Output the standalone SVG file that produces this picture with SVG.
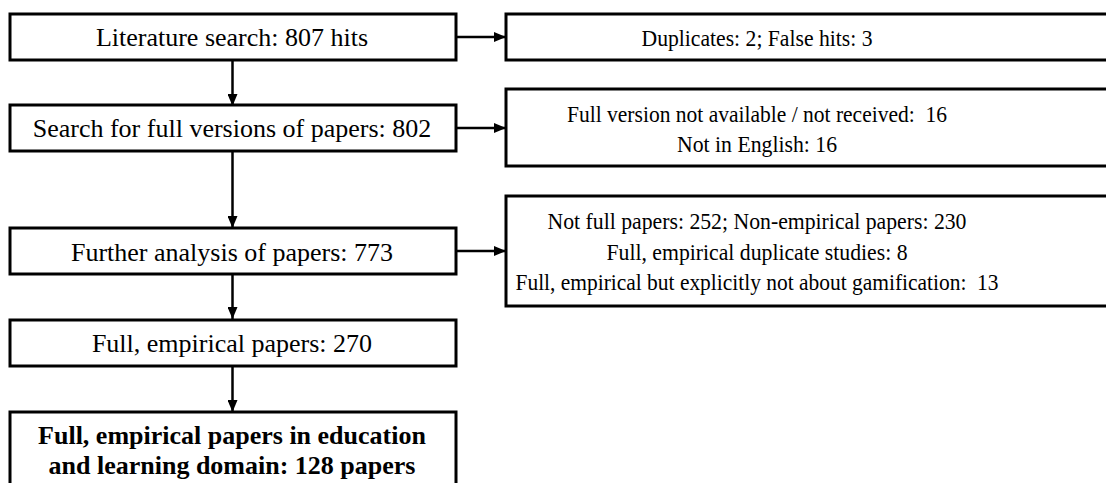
<svg xmlns="http://www.w3.org/2000/svg" width="1106" height="483" viewBox="0 0 1106 483">
<style>
.box{fill:#fff;stroke:#000;stroke-width:3}
.t{font-family:"Liberation Serif","Times New Roman",serif;font-size:24px;fill:#000;text-anchor:middle}
.l{font-size:26px}
.b{font-weight:bold}
.c{stroke:#000;stroke-width:2.5;fill:none}
</style>
<defs>
<marker id="ah" markerWidth="12" markerHeight="10" refX="12" refY="5" orient="auto" markerUnits="userSpaceOnUse">
<path d="M0,0 L12,5 L0,10 Z" fill="#000"/>
</marker>
</defs>
<rect width="1106" height="483" fill="#fff"/>
<g id="connectors">
<line class="c" x1="457" y1="37" x2="506" y2="37" marker-end="url(#ah)"/>
<line class="c" x1="457" y1="128" x2="506" y2="128" marker-end="url(#ah)"/>
<line class="c" x1="457" y1="251" x2="506" y2="251" marker-end="url(#ah)"/>
<line class="c" x1="232.5" y1="60" x2="232.5" y2="106" marker-end="url(#ah)"/>
<line class="c" x1="232.5" y1="151" x2="232.5" y2="228" marker-end="url(#ah)"/>
<line class="c" x1="232.5" y1="274" x2="232.5" y2="319" marker-end="url(#ah)"/>
<line class="c" x1="232.5" y1="366" x2="232.5" y2="412" marker-end="url(#ah)"/>
</g>
<g id="n1">
<rect class="box" x="10" y="14" width="446" height="46"/>
<text class="t l" x="232" y="46">Literature search: 807 hits</text>
</g>
<g id="n2">
<rect class="box" x="10" y="105" width="446" height="46"/>
<text class="t l" x="232" y="137">Search for full versions of papers: 802</text>
</g>
<g id="n3">
<rect class="box" x="10" y="228" width="446" height="46"/>
<text class="t l" x="232" y="261">Further analysis of papers: 773</text>
</g>
<g id="n4">
<rect class="box" x="10" y="320" width="446" height="46"/>
<text class="t l" x="232" y="352">Full, empirical papers: 270</text>
</g>
<g id="n5">
<rect class="box" x="10" y="412" width="446" height="80"/>
<text class="t l b" x="232" y="444">Full, empirical papers in education</text>
<text class="t l b" x="232" y="474">and learning domain: 128 papers</text>
</g>
<g id="r1">
<rect class="box" x="506" y="14" width="610" height="46"/>
<text class="t" x="757" y="46" textLength="231" lengthAdjust="spacingAndGlyphs">Duplicates: 2; False hits: 3</text>
</g>
<g id="r2">
<rect class="box" x="506" y="89" width="610" height="77"/>
<text class="t" x="757" y="122" textLength="380" lengthAdjust="spacingAndGlyphs">Full version not available / not received:&#160; 16</text>
<text class="t" x="757" y="152" textLength="160" lengthAdjust="spacingAndGlyphs">Not in English: 16</text>
</g>
<g id="r3">
<rect class="box" x="506" y="196" width="610" height="110"/>
<text class="t" x="757" y="229" textLength="419" lengthAdjust="spacingAndGlyphs">Not full papers: 252; Non-empirical papers: 230</text>
<text class="t" x="757" y="260" textLength="301" lengthAdjust="spacingAndGlyphs">Full, empirical duplicate studies: 8</text>
<text class="t" x="757" y="290" textLength="483" lengthAdjust="spacingAndGlyphs">Full, empirical but explicitly not about gamification:&#160; 13</text>
</g>
</svg>
